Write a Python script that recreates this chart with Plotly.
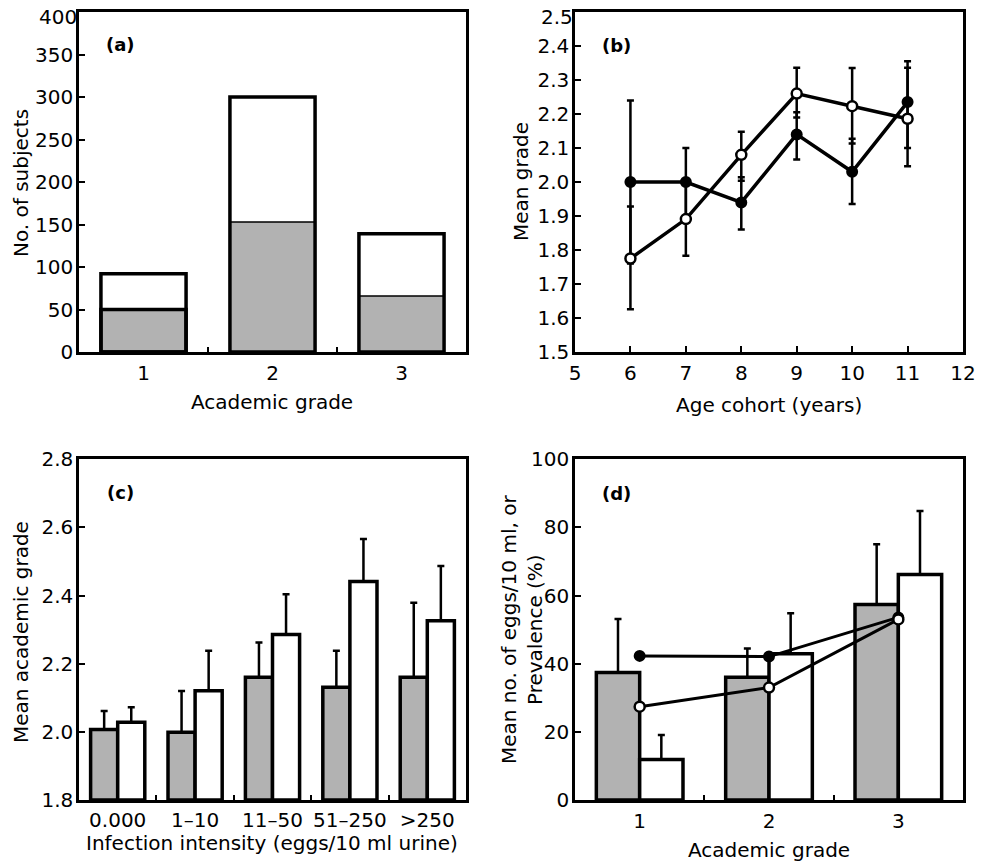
import plotly.graph_objects as go

# ---------------- data ----------------
grades = ["1", "2", "3"]
a_infected = [50, 153, 66]
a_total = [92, 300, 139]
a_yticks = [0, 50, 100, 150, 200, 250, 300, 350, 400]

b_ages = [6, 7, 8, 9, 10, 11]
b_filled = [2.00, 2.00, 1.94, 2.14, 2.03, 2.235]
b_filled_err_plus = [0.24, 0.10, 0.074, 0.065, 0.097, 0.12]
b_filled_err_minus = [0.24, 0.10, 0.08, 0.074, 0.095, 0.135]
b_open = [1.775, 1.891, 2.08, 2.26, 2.223, 2.186]
b_open_err_plus = [0.153, 0.11, 0.068, 0.076, 0.112, 0.15]
b_open_err_minus = [0.149, 0.108, 0.076, 0.07, 0.11, 0.14]
b_yticks = [1.5, 1.6, 1.7, 1.8, 1.9, 2.0, 2.1, 2.2, 2.3, 2.4, 2.5]

c_labels = ["0.000", "1\u201310", "11\u201350", "51\u2013250", ">250"]
c_grey = [2.007, 1.999, 2.160, 2.131, 2.160]
c_grey_err = [0.054, 0.121, 0.102, 0.107, 0.219]
c_white = [2.028, 2.121, 2.286, 2.441, 2.326]
c_white_err = [0.044, 0.117, 0.118, 0.125, 0.161]

d_grey = [37.4, 36.0, 57.4]
d_grey_err = [15.7, 8.5, 17.7]
d_white = [11.9, 42.9, 66.2]
d_white_err = [7.2, 11.9, 18.6]
d_filled = [42.3, 42.1, 53.6]
d_open = [27.4, 33.0, 53.0]

# ---------------- style ----------------
GREY = "rgb(178,178,178)"
FONT = "DejaVu Sans"
OFF = 8                      # default page (body) margin
W, H = 986 - OFF, 865 - OFF

fig = go.Figure()

# (a)
fig.add_trace(go.Bar(x=grades, y=a_infected, xaxis="x", yaxis="y",
                     width=0.66, offset=-0.33,
                     marker=dict(color=GREY, line=dict(color="black", width=[3.5, 1.5, 1.5]))))
fig.add_trace(go.Bar(x=grades, y=a_total, xaxis="x", yaxis="y",
                     width=0.66, offset=-0.33,
                     marker=dict(color="rgba(0,0,0,0)", line=dict(color="black", width=3.5))))

# (b)
fig.add_trace(go.Scatter(x=b_ages, y=b_filled, xaxis="x2", yaxis="y2", mode="lines+markers",
                         line=dict(color="black", width=3.5),
                         marker=dict(size=10, color="black", line=dict(color="black", width=2)),
                         error_y=dict(type="data", symmetric=False, array=b_filled_err_plus,
                                      arrayminus=b_filled_err_minus, color="black",
                                      thickness=2.5, width=3.5)))
fig.add_trace(go.Scatter(x=b_ages, y=b_open, xaxis="x2", yaxis="y2", mode="lines+markers",
                         line=dict(color="black", width=3.5),
                         marker=dict(size=10, color="white", line=dict(color="black", width=2.5)),
                         error_y=dict(type="data", symmetric=False, array=b_open_err_plus,
                                      arrayminus=b_open_err_minus, color="black",
                                      thickness=2.5, width=3.5)))

# (c)
fig.add_trace(go.Bar(x=c_labels, y=[v - 1.8 for v in c_grey], base=1.8, xaxis="x3", yaxis="y3",
                     width=0.35, offset=-0.35,
                     marker=dict(color=GREY, line=dict(color="black", width=3.5)),
                     error_y=dict(type="data", symmetric=False, array=c_grey_err,
                                  arrayminus=[0] * len(c_grey), color="black",
                                  thickness=2.5, width=3.5)))
fig.add_trace(go.Bar(x=c_labels, y=[v - 1.8 for v in c_white], base=1.8, xaxis="x3", yaxis="y3",
                     width=0.35, offset=0.0,
                     marker=dict(color="white", line=dict(color="black", width=3.5)),
                     error_y=dict(type="data", symmetric=False, array=c_white_err,
                                  arrayminus=[0] * len(c_white), color="black",
                                  thickness=2.5, width=3.5)))

# (d)
fig.add_trace(go.Bar(x=grades, y=d_grey, xaxis="x4", yaxis="y4",
                     width=0.335, offset=-0.335,
                     marker=dict(color=GREY, line=dict(color="black", width=3.5)),
                     error_y=dict(type="data", symmetric=False, array=d_grey_err,
                                  arrayminus=[0] * 3, color="black", thickness=2.5, width=3.5)))
fig.add_trace(go.Bar(x=grades, y=d_white, xaxis="x4", yaxis="y4",
                     width=0.335, offset=0.0,
                     marker=dict(color="white", line=dict(color="black", width=3.5)),
                     error_y=dict(type="data", symmetric=False, array=d_white_err,
                                  arrayminus=[0] * 3, color="black", thickness=2.5, width=3.5)))
fig.add_trace(go.Scatter(x=grades, y=d_filled, xaxis="x4", yaxis="y4", mode="lines+markers",
                         line=dict(color="black", width=3),
                         marker=dict(size=10, color="black", line=dict(color="black", width=2))))
fig.add_trace(go.Scatter(x=grades, y=d_open, xaxis="x4", yaxis="y4", mode="lines+markers",
                         line=dict(color="black", width=3),
                         marker=dict(size=10, color="white", line=dict(color="black", width=2.5))))


def px_x(v):
    return (v - OFF) / W


def px_y(v):
    return 1 - (v - OFF) / H


axis_common = dict(showline=True, linewidth=2.5, linecolor="black", mirror=True,
                   ticks="inside", tickwidth=2, tickcolor="black", ticklen=6,
                   showgrid=False, zeroline=False, automargin=False,
                   ticklabeloverflow="allow",
                   tickfont=dict(family=FONT, size=20, color="black"))

dom_ax = [px_x(79), px_x(466)]
dom_bx = [px_x(575), px_x(963)]
dom_top = [px_y(352), px_y(12)]
dom_bot = [px_y(800), px_y(459.3)]

# top-most tick labels of (a) and (b) are drawn as annotations so they are not clipped
a_tick_text = [str(v) for v in a_yticks[:-1]] + [""]
b_tick_text = [f"{v:.1f}" for v in b_yticks[:-1]] + [""]

fig.update_layout(
    width=W, height=H, margin=dict(l=0, r=0, t=0, b=0, autoexpand=False),
    paper_bgcolor="white", plot_bgcolor="white", showlegend=False,
    barmode="overlay",
    font=dict(family=FONT, size=20, color="black"),
    xaxis=dict(axis_common, domain=dom_ax, anchor="y", type="category", tickangle=0,
               range=[-0.5, 2.5], tickson="boundaries", ticklen=5, ticklabelstandoff=1),
    yaxis=dict(axis_common, domain=dom_top, anchor="x", range=[0, 400],
               tickmode="array", tickvals=a_yticks, ticktext=a_tick_text,
               ticklabelstandoff=-1),
    xaxis2=dict(axis_common, domain=dom_bx, anchor="y2", range=[5, 12], dtick=1,
                tickangle=0, ticklabelstandoff=1),
    yaxis2=dict(axis_common, domain=dom_top, anchor="x2", range=[1.5, 2.5],
                tickmode="array", tickvals=b_yticks, ticktext=b_tick_text,
                ticklabelstandoff=-1),
    xaxis3=dict(axis_common, domain=dom_ax, anchor="y3", type="category", tickangle=0,
                range=[-0.5, 4.5], tickson="boundaries", ticklen=5, ticklabelstandoff=0),
    yaxis3=dict(axis_common, domain=dom_bot, anchor="x3", range=[1.8, 2.8], dtick=0.2,
                tick0=1.8, tickformat=".1f", ticklabelstandoff=-1),
    xaxis4=dict(axis_common, domain=dom_bx, anchor="y4", type="category", tickangle=0,
                range=[-0.5, 2.5], tickson="boundaries", ticklen=5, ticklabelstandoff=1),
    yaxis4=dict(axis_common, domain=dom_bot, anchor="x4", range=[0, 100], dtick=20, tick0=0,
                ticklabelstandoff=-1),
)

ann = []


def label(text, x, y, size=20, angle=0, bold=False):
    ann.append(dict(text=f"<b>{text}</b>" if bold else text, x=px_x(x), y=px_y(y),
                    xref="paper", yref="paper", showarrow=False, textangle=angle,
                    xanchor="center", yanchor="middle",
                    font=dict(family=FONT, size=size, color="black")))


# top tick labels (value taken from the tick arrays)
ann.append(dict(text=str(a_yticks[-1]), x=px_x(78), y=a_yticks[-1], xref="paper", yref="y",
                xanchor="right", yanchor="middle", yshift=-5, borderpad=0, showarrow=False,
                font=dict(family=FONT, size=20, color="black")))
ann.append(dict(text=f"{b_yticks[-1]:.1f}", x=px_x(574), y=b_yticks[-1], xref="paper",
                yref="y2", xanchor="right", yanchor="middle", yshift=-5, borderpad=0,
                showarrow=False, font=dict(family=FONT, size=20, color="black")))

label("(a)", 120, 44, size=18, bold=True)
label("(b)", 616, 45, size=18, bold=True)
label("(c)", 120, 492, size=18, bold=True)
label("(d)", 616, 493, size=18, bold=True)

label("Academic grade", 272, 402)
label("Age cohort (years)", 769, 405)
label("Infection intensity (eggs/10 ml urine)", 272, 843)
label("Academic grade", 769, 850)

label("No. of subjects", 21, 183, angle=-90)
label("Mean grade", 521, 182, angle=-90)
label("Mean academic grade", 21, 632, angle=-90)
label("Mean no. of eggs/10 ml, or<br>Prevalence (%)", 522, 630, angle=-90)

fig.update_layout(annotations=ann)

fig.write_html("out.html")
